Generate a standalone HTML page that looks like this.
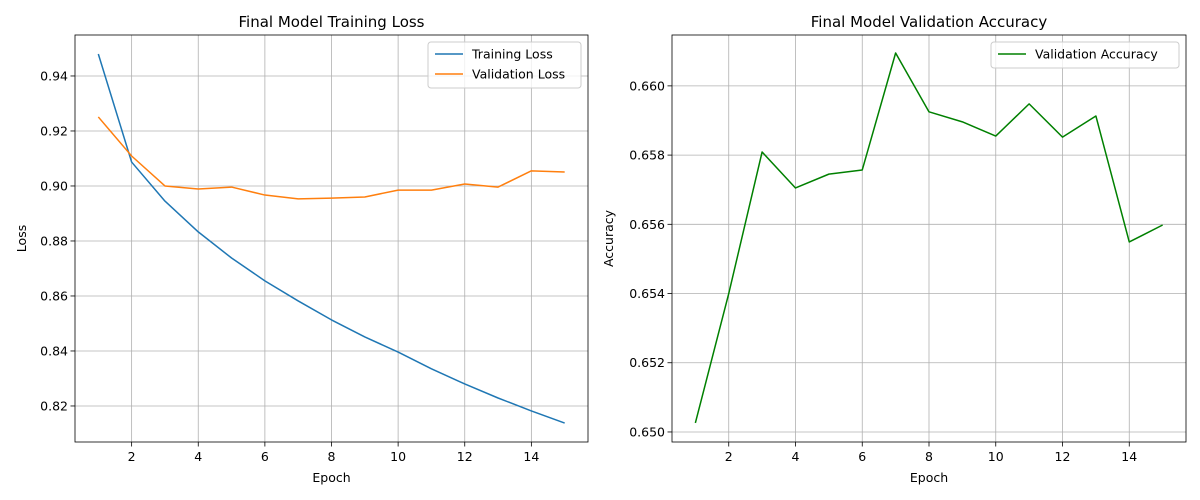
<!DOCTYPE html>
<html><head><meta charset="utf-8"><style>
body{margin:0;background:#fff;}
svg{display:block;font-family:"DejaVu Sans","Liberation Sans",sans-serif;}
</style></head><body>
<svg id="c" width="1200" height="500"></svg>
<script>
const epochs=[1,2,3,4,5,6,7,8,9,10,11,12,13,14,15];
const trainLoss=[0.948,0.9087,0.8945,0.8833,0.8738,0.8655,0.8582,0.8513,0.8451,0.8396,0.8335,0.828,0.8229,0.8182,0.8138];
const valLoss=[0.9251,0.9109,0.9,0.8989,0.8996,0.8967,0.8953,0.8956,0.896,0.8985,0.8985,0.9007,0.8996,0.9055,0.9051];
const valAcc=[0.65026,0.654,0.65809,0.65705,0.65745,0.65757,0.66095,0.65925,0.65896,0.65855,0.65948,0.65852,0.65913,0.65549,0.65598];
const xTicks=[2,4,6,8,10,12,14];
const lossTicks=[0.82,0.84,0.86,0.88,0.90,0.92,0.94];
const accTicks=[0.650,0.652,0.654,0.656,0.658,0.660];

const svg=document.getElementById('c');
const NS='http://www.w3.org/2000/svg';
function mk(tag,attrs,parent,text){const e=document.createElementNS(NS,tag);for(const k in attrs)e.setAttribute(k,attrs[k]);if(text!==undefined)e.textContent=text;(parent||svg).appendChild(e);return e;}

function panel(o){
  const g=mk('g',{});
  
  
  const X=v=>o.x0+(v-o.xmin)/(o.xmax-o.xmin)*(o.x1-o.x0);
  const Y=v=>o.y1-(v-o.ymin)/(o.ymax-o.ymin)*(o.y1-o.y0);
  xTicks.forEach(t=>{const x=X(t);
    const l=mk('line',{x1:x,x2:x,y1:o.y0,y2:o.y1,stroke:'#b0b0b0','stroke-width':0.8},g);
    
    mk('line',{x1:x,x2:x,y1:o.y1,y2:o.y1+4.5,stroke:'#000','stroke-width':0.8},g);
    const tx=mk('text',{x:x,y:o.y1+19,'text-anchor':'middle','font-size':12.5},g,String(t));
    
  });
  o.yticks.forEach(t=>{const y=Y(t);
    const l=mk('line',{x1:o.x0,x2:o.x1,y1:y,y2:y,stroke:'#b0b0b0','stroke-width':0.8},g);
    
    mk('line',{x1:o.x0-4.5,x2:o.x0,y1:y,y2:y,stroke:'#000','stroke-width':0.8},g);
    const tx=mk('text',{x:o.x0-7,y:y+4.5,'text-anchor':'end','font-size':12.5},g,t.toFixed(o.dec));
    
  });
  o.series.forEach(s=>{
    const p=mk('polyline',{points:epochs.map((e,i)=>X(e)+','+Y(s.v[i])).join(' '),fill:'none',stroke:s.c,'stroke-width':1.5,'stroke-linejoin':'round'},g);
    
  });
  const fr=mk('rect',{x:o.x0,y:o.y0,width:o.x1-o.x0,height:o.y1-o.y0,fill:'none',stroke:'#000','stroke-width':0.8},g);
  
  const ti=mk('text',{x:(o.x0+o.x1)/2,y:o.y0-8,'text-anchor':'middle','font-size':15},g,o.title);
  
  const xl=mk('text',{x:(o.x0+o.x1)/2,y:482,'text-anchor':'middle','font-size':12.5},g,'Epoch');
  
  const yl=mk('text',{x:0,y:0,'text-anchor':'middle','font-size':12.5,transform:`translate(${o.ylx},${(o.y0+o.y1)/2}) rotate(-90)`},g,o.ylabel);
  
  const lg=mk('g',{},g);
  
  mk('rect',{x:o.lx,y:42,width:o.lw,height:6+o.series.length*20,rx:3,fill:'#fff','fill-opacity':0.8,stroke:'#ccc','stroke-width':1},lg);
  o.series.forEach((s,i)=>{const y=54+i*20;
    const e=mk('g',{},lg);
    mk('line',{x1:o.lx+7,x2:o.lx+35,y1:y,y2:y,stroke:s.c,'stroke-width':1.5},e);
    mk('text',{x:o.lx+44,y:y+4.5,'font-size':12.5},e,s.label);
  });
}
panel({name:'training-loss-chart',x0:75,x1:588,y0:35,y1:442,xmin:0.3,xmax:15.7,ymin:0.8069,ymax:0.9549,yticks:lossTicks,dec:2,title:'Final Model Training Loss',ylabel:'Loss',ylx:26,lx:428,lw:153,
  series:[{v:trainLoss,c:'#1f77b4',n:'training-loss-line',label:'Training Loss'},{v:valLoss,c:'#ff7f0e',n:'validation-loss-line',label:'Validation Loss'}]});
panel({name:'validation-accuracy-chart',x0:672,x1:1186,y0:35,y1:442,xmin:0.3,xmax:15.7,ymin:0.64971,ymax:0.66147,yticks:accTicks,dec:3,title:'Final Model Validation Accuracy',ylabel:'Accuracy',ylx:613,lx:991,lw:188,
  series:[{v:valAcc,c:'#008000',n:'validation-accuracy-line',label:'Validation Accuracy'}]});
</script>
</body></html>
